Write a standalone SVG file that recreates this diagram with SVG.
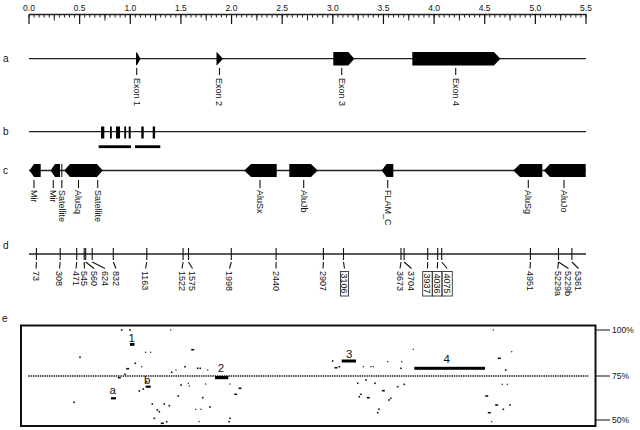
<svg xmlns="http://www.w3.org/2000/svg" width="640" height="430" viewBox="0 0 640 430">
<style>
text{font-family:"Liberation Sans",Arial,Helvetica,sans-serif;fill:#111}
.rl{font-size:8.5px;text-anchor:middle}
.row{font-size:10px}
.lab{font-size:9px}
.ln{stroke:#222;stroke-width:1.3;fill:none}
.ld{stroke:#111;stroke-width:1.1;fill:none}
.sh{fill:#000}
.bx{fill:none;stroke:#333;stroke-width:0.9}
.dt{fill:#111}
.pc{font-size:8.5px}
.el{font-size:11.5px;text-anchor:middle}
</style>
<rect width="640" height="430" fill="#fff"/>

<g id="ruler">
<line class="ln" x1="29" y1="14.5" x2="586.5" y2="14.5"/>
<line x1="28.5" y1="16" x2="587" y2="16" stroke="#222" stroke-width="3" stroke-dasharray="1 4.0636"/>
<line x1="53.82" y1="17.5" x2="587" y2="17.5" stroke="#222" stroke-width="6" stroke-dasharray="1 49.636"/>
<line x1="28.4" y1="19.25" x2="587" y2="19.25" stroke="#111" stroke-width="9.5" stroke-dasharray="1.2 49.436"/>
<text class="rl" x="29" y="10.5">0.0</text>
<text class="rl" x="79.6" y="10.5">0.5</text>
<text class="rl" x="130.3" y="10.5">1.0</text>
<text class="rl" x="180.9" y="10.5">1.5</text>
<text class="rl" x="231.5" y="10.5">2.0</text>
<text class="rl" x="282.2" y="10.5">2.5</text>
<text class="rl" x="332.8" y="10.5">3.0</text>
<text class="rl" x="383.5" y="10.5">3.5</text>
<text class="rl" x="434.1" y="10.5">4.0</text>
<text class="rl" x="484.7" y="10.5">4.5</text>
<text class="rl" x="535.4" y="10.5">5.0</text>
<text class="rl" x="586" y="10.5">5.5</text>
</g>

<g id="row-a">
<text class="row" x="3" y="61.5">a</text>
<line class="ln" x1="29" y1="58.7" x2="586" y2="58.7"/>
<g id="exon1"><polygon class="sh" points="136,52.5 137,52.5 140.5,58.7 137,65 136,65"/><line class="ld" x1="136.7" y1="68" x2="136.7" y2="75"/><text class="lab" transform="translate(133.5,78) rotate(90)">Exon 1</text></g>
<g id="exon2"><polygon class="sh" points="216.5,52.3 217,52.3 223,58.7 217,65.2 216.5,65.2"/><line class="ld" x1="219.5" y1="68" x2="219.5" y2="75"/><text class="lab" transform="translate(216.3,78) rotate(90)">Exon 2</text></g>
<g id="exon3"><polygon class="sh" points="333.3,52 348.3,52 354.3,58.7 348.3,65.5 333.3,65.5"/><line class="ld" x1="341.7" y1="68" x2="341.7" y2="75"/><text class="lab" transform="translate(338.5,78) rotate(90)">Exon 3</text></g>
<g id="exon4"><polygon class="sh" points="412.3,52 494,52 500.3,58.7 494,65.5 412.3,65.5"/><line class="ld" x1="455.7" y1="68" x2="455.7" y2="75"/><text class="lab" transform="translate(452.5,78) rotate(90)">Exon 4</text></g>
</g>

<g id="row-b">
<text class="row" x="3" y="134.5">b</text>
<line class="ln" x1="29" y1="131.7" x2="586" y2="131.7"/>
<g class="sh">
<rect x="101" y="126.5" width="3.3" height="12"/>
<rect x="110" y="126.5" width="1.8" height="12"/>
<rect x="116" y="126.5" width="4" height="12"/>
<rect x="124.3" y="126.5" width="1.8" height="12"/>
<rect x="128.7" y="126.5" width="2" height="12"/>
<rect x="141.3" y="126.5" width="2.4" height="12"/>
<rect x="152.7" y="126.5" width="2.4" height="12"/>
<rect x="98.7" y="145.3" width="32.3" height="2.8"/>
<rect x="135" y="145.3" width="25.3" height="2.8"/>
</g>
</g>

<g id="row-c">
<text class="row" x="3" y="173.5">c</text>
<line class="ln" x1="29" y1="170.5" x2="586" y2="170.5"/>
<g id="mir1"><polygon class="sh" points="29.5,170.5 34,164 40.7,164 40.7,177 34,177"/><line class="ld" x1="34" y1="180" x2="34" y2="188"/><text class="lab" transform="translate(30.8,190) rotate(90)">Mir</text></g>
<g id="mir2"><polygon class="sh" points="50.5,170.5 55,164 60,164 60,177 55,177"/><line class="ld" x1="53.3" y1="180" x2="53.3" y2="188"/><text class="lab" transform="translate(50.1,190) rotate(90)">Mir</text></g>
<g id="sat1"><rect class="sh" x="61.3" y="164" width="1" height="13"/><line class="ld" x1="61.8" y1="180" x2="61.8" y2="188"/><text class="lab" transform="translate(58.6,190) rotate(90)">Satellite</text></g>
<g id="alusq"><polygon class="sh" points="64.3,170.5 70,164 90,164 90,177 70,177"/><line class="ld" x1="78.5" y1="180" x2="78.5" y2="188"/><text class="lab" transform="translate(75.3,190) rotate(90)">AluSq</text></g>
<g id="sat2"><polygon class="sh" points="89.5,164 97,164 102.7,170.5 97,177 89.5,177"/><line class="ld" x1="97.7" y1="180" x2="97.7" y2="188"/><text class="lab" transform="translate(94.5,190) rotate(90)">Satellite</text></g>
<g id="alusx"><polygon class="sh" points="244.3,170.5 251,164 276.7,164 276.7,177 251,177"/><line class="ld" x1="260" y1="180" x2="260" y2="188"/><text class="lab" transform="translate(256.8,190) rotate(90)">AluSx</text></g>
<g id="alujb"><polygon class="sh" points="289.3,164 311,164 317.7,170.5 311,177 289.3,177"/><line class="ld" x1="303.7" y1="180" x2="303.7" y2="188"/><text class="lab" transform="translate(300.5,190) rotate(90)">AluJb</text></g>
<g id="flamc"><polygon class="sh" points="381.7,170.5 386.5,164 393.3,164 393.3,177 386.5,177"/><line class="ld" x1="387.7" y1="180" x2="387.7" y2="188"/><text class="lab" transform="translate(384.5,190) rotate(90)">FLAM_C</text></g>
<g id="alusg"><polygon class="sh" points="513.3,170.5 520,164 542.3,164 542.3,177 520,177"/><line class="ld" x1="528.3" y1="180" x2="528.3" y2="188"/><text class="lab" transform="translate(525.1,190) rotate(90)">AluSg</text></g>
<g id="alujo"><polygon class="sh" points="543.8,170.5 550,164 585.7,164 585.7,177 550,177"/><line class="ld" x1="564" y1="180" x2="564" y2="188"/><text class="lab" transform="translate(560.8,190) rotate(90)">AluJo</text></g>
</g>

<g id="row-d">
<text class="row" x="3" y="249">d</text>
<line class="ln" x1="29" y1="254" x2="586" y2="254"/>
<path class="ld" d="M36.4 248V260M60.2 248V260M76.7 248V260M84.2 248V260M85.7 248V260M92.2 248V260M113.3 248V260M146.8 248V260M183.1 248V260M188.5 248V260M231.3 248V260M276.1 248V260M323.4 248V260M343.5 248V260M401 248V260M404.1 248V260M427.7 248V260M437.7 248V260M441.7 248V260M530.4 248V260M558.5 248V260M571.9 248V260"/>
<path class="ld" d="M36.4 262L36 268.5M60.2 262L59.5 268.5M76.7 262L76 268.5M84.2 262L84.5 268.5M85.7 262L94 268.5M92.2 262L105 268.5M113.3 262L116 268.5M146.8 262L145.5 268.5M183.1 262L182 268.5M188.5 262L192.5 268.5M231.3 262L229.5 268.5M276.1 262L276 268.5M323.4 262L323 268.5M343.5 262L344.5 268.5M401 262L400 268.5M404.1 262L411.5 268.5M427.7 262L427.5 268.5M437.7 262L437.2 268.5M441.7 262L447.2 268.5M530.4 262L530 268.5M558.5 262L557.7 268.5M558.5 262L568.5 268.5M571.9 262L578.5 268.5"/>
<g class="lab">
<text class="lab" transform="translate(32.8,271) rotate(90)">73</text>
<text class="lab" transform="translate(56.3,271) rotate(90)">308</text>
<text class="lab" transform="translate(72.8,271) rotate(90)">471</text>
<text class="lab" transform="translate(81.3,271) rotate(90)">545</text>
<text class="lab" transform="translate(90.8,271) rotate(90)">560</text>
<text class="lab" transform="translate(101.8,271) rotate(90)">624</text>
<text class="lab" transform="translate(112.8,271) rotate(90)">832</text>
<text class="lab" transform="translate(142.3,271) rotate(90)">1163</text>
<text class="lab" transform="translate(178.8,271) rotate(90)">1522</text>
<text class="lab" transform="translate(189.3,271) rotate(90)">1575</text>
<text class="lab" transform="translate(226.3,271) rotate(90)">1998</text>
<text class="lab" transform="translate(272.8,271) rotate(90)">2440</text>
<text class="lab" transform="translate(319.8,271) rotate(90)">2907</text>
<text class="lab" transform="translate(341.3,273.5) rotate(90)">3106</text>
<text class="lab" transform="translate(396.8,271) rotate(90)">3673</text>
<text class="lab" transform="translate(408.3,271) rotate(90)">3704</text>
<text class="lab" transform="translate(424.3,273.5) rotate(90)">3937</text>
<text class="lab" transform="translate(434,273.5) rotate(90)">4036</text>
<text class="lab" transform="translate(444,273.5) rotate(90)">4075</text>
<text class="lab" transform="translate(526.8,271) rotate(90)">4951</text>
<text class="lab" transform="translate(554.5,271) rotate(90)">5229a</text>
<text class="lab" transform="translate(565.3,271) rotate(90)">5229b</text>
<text class="lab" transform="translate(575.3,271) rotate(90)">5361</text>
</g>
<rect class="bx" x="340.5" y="271.5" width="8" height="24.5"/>
<rect class="bx" x="422.7" y="271.5" width="9.6" height="24.5"/>
<rect class="bx" x="432.3" y="271.5" width="9.7" height="24.5"/>
<rect class="bx" x="442" y="271.5" width="10.3" height="24.5"/>
</g>

<g id="row-e">
<text class="row" x="2" y="322">e</text>
<rect x="21" y="325.5" width="574.5" height="100.5" fill="none" stroke="#111" stroke-width="2"/>
<line x1="28.3" y1="376" x2="588.3" y2="376" stroke="#222" stroke-width="1.5" stroke-dasharray="1.5 0.8"/>
<path class="ld" d="M595.7 330H610M595.7 376H610M595.7 420H610" stroke-width="1.2"/>
<text class="pc" x="612" y="333">100%</text>
<text class="pc" x="612" y="379">75%</text>
<text class="pc" x="612" y="423">50%</text>
<g class="sh">
<rect x="130" y="343" width="4.5" height="2.8"/>
<rect x="215" y="376" width="13.3" height="3.2"/>
<rect x="341.7" y="359.5" width="14.3" height="3"/>
<rect x="414.3" y="366.8" width="70.7" height="3"/>
<rect x="111" y="397.2" width="5" height="2.2"/>
<rect x="145.7" y="385.6" width="5" height="2.2"/>
</g>
<text class="el" x="131.7" y="342">1</text>
<text class="el" x="221" y="371.5">2</text>
<text class="el" x="349.3" y="357.5">3</text>
<text class="el" x="446.7" y="362.5">4</text>
<text class="el" x="112.7" y="394">a</text>
<text class="el" x="147.3" y="383.5">b</text>
<g class="dt">
<rect x="120.9" y="329.2" width="1.6" height="1.6"/>
<rect x="129.2" y="329.2" width="1.6" height="1.6"/>
<rect x="170.1" y="329.4" width="1.2" height="1.2"/>
<rect x="79.2" y="356.5" width="1.6" height="1.6"/>
<rect x="145.1" y="351.7" width="1.2" height="1.2"/>
<rect x="150.1" y="351.7" width="1.2" height="1.2"/>
<rect x="191.2" y="348.9" width="3" height="1.6"/>
<rect x="134.5" y="362.5" width="1.6" height="1.6"/>
<rect x="141.1" y="366.1" width="1.2" height="1.2"/>
<rect x="126.2" y="367.9" width="3" height="1.6"/>
<rect x="184.2" y="365.9" width="1.6" height="1.6"/>
<rect x="175.4" y="369.4" width="1.2" height="1.2"/>
<rect x="170.9" y="371.5" width="1.6" height="1.6"/>
<rect x="196.9" y="367.5" width="1.6" height="1.6"/>
<rect x="199.5" y="367.5" width="1.6" height="1.6"/>
<rect x="207.1" y="369.4" width="1.2" height="1.2"/>
<rect x="124.2" y="373.5" width="1.6" height="1.6"/>
<rect x="117.8" y="376.9" width="3" height="1.6"/>
<rect x="145.9" y="380.9" width="1.6" height="1.6"/>
<rect x="180.2" y="384.2" width="1.6" height="1.6"/>
<rect x="187.7" y="382.7" width="1.2" height="1.2"/>
<rect x="188.7" y="385.4" width="1.2" height="1.2"/>
<rect x="205.1" y="383.4" width="1.2" height="1.2"/>
<rect x="229.4" y="383.4" width="1.2" height="1.2"/>
<rect x="138.5" y="390.2" width="1.6" height="1.6"/>
<rect x="142.5" y="388.2" width="1.6" height="1.6"/>
<rect x="238.5" y="387.5" width="3" height="1.6"/>
<rect x="234.2" y="393.5" width="3" height="1.6"/>
<rect x="177.5" y="395.2" width="1.6" height="1.6"/>
<rect x="201.9" y="396.9" width="1.6" height="1.6"/>
<rect x="73.2" y="401.5" width="1.6" height="1.6"/>
<rect x="151.5" y="403.2" width="1.6" height="1.6"/>
<rect x="163.5" y="403.2" width="1.6" height="1.6"/>
<rect x="168.5" y="404.9" width="1.6" height="1.6"/>
<rect x="156.5" y="409.2" width="1.6" height="1.6"/>
<rect x="158.5" y="410.9" width="1.6" height="1.6"/>
<rect x="195.1" y="408.7" width="1.2" height="1.2"/>
<rect x="200.4" y="408.7" width="1.2" height="1.2"/>
<rect x="209.2" y="406.2" width="1.6" height="1.6"/>
<rect x="153.5" y="417.5" width="1.6" height="1.6"/>
<rect x="160.8" y="422.5" width="3" height="1.6"/>
<rect x="165.9" y="420.9" width="1.6" height="1.6"/>
<rect x="198.4" y="421.1" width="1.2" height="1.2"/>
<rect x="229.2" y="417.5" width="1.6" height="1.6"/>
<rect x="228.2" y="420.9" width="1.6" height="1.6"/>
<rect x="492.7" y="329.4" width="1.2" height="1.2"/>
<rect x="412.7" y="348.7" width="1.2" height="1.2"/>
<rect x="511.1" y="351.1" width="1.2" height="1.2"/>
<rect x="497.8" y="357.5" width="3" height="1.6"/>
<rect x="331.9" y="360.2" width="1.6" height="1.6"/>
<rect x="334.5" y="366.9" width="3" height="1.6"/>
<rect x="338.5" y="365.9" width="1.6" height="1.6"/>
<rect x="362.7" y="366.1" width="1.2" height="1.2"/>
<rect x="370.4" y="366.1" width="1.2" height="1.2"/>
<rect x="372.7" y="366.1" width="1.2" height="1.2"/>
<rect x="387.1" y="361.1" width="1.2" height="1.2"/>
<rect x="401.1" y="361.1" width="1.2" height="1.2"/>
<rect x="400.2" y="367.5" width="1.6" height="1.6"/>
<rect x="504.9" y="369.2" width="1.6" height="1.6"/>
<rect x="365.2" y="379.2" width="1.6" height="1.6"/>
<rect x="356.9" y="382.5" width="1.6" height="1.6"/>
<rect x="374.2" y="382.5" width="1.6" height="1.6"/>
<rect x="403.5" y="383.5" width="1.6" height="1.6"/>
<rect x="396.9" y="385.9" width="1.6" height="1.6"/>
<rect x="501.7" y="383.7" width="1.2" height="1.2"/>
<rect x="506.7" y="383.7" width="1.2" height="1.2"/>
<rect x="381.8" y="389.9" width="3" height="1.6"/>
<rect x="360.2" y="393.5" width="1.6" height="1.6"/>
<rect x="358.5" y="395.9" width="1.6" height="1.6"/>
<rect x="366.8" y="396.9" width="3" height="1.6"/>
<rect x="389.9" y="397.5" width="1.6" height="1.6"/>
<rect x="388.2" y="399.2" width="1.6" height="1.6"/>
<rect x="485.2" y="395.2" width="3" height="1.6"/>
<rect x="495.2" y="404.2" width="3" height="1.6"/>
<rect x="509.2" y="404.2" width="1.6" height="1.6"/>
<rect x="502.5" y="408.5" width="1.6" height="1.6"/>
<rect x="378.2" y="408.5" width="1.6" height="1.6"/>
<rect x="376.9" y="411.9" width="1.6" height="1.6"/>
<rect x="487.8" y="411.9" width="3" height="1.6"/>
<rect x="491.1" y="421.1" width="1.2" height="1.2"/>
</g>
</g>
</svg>
